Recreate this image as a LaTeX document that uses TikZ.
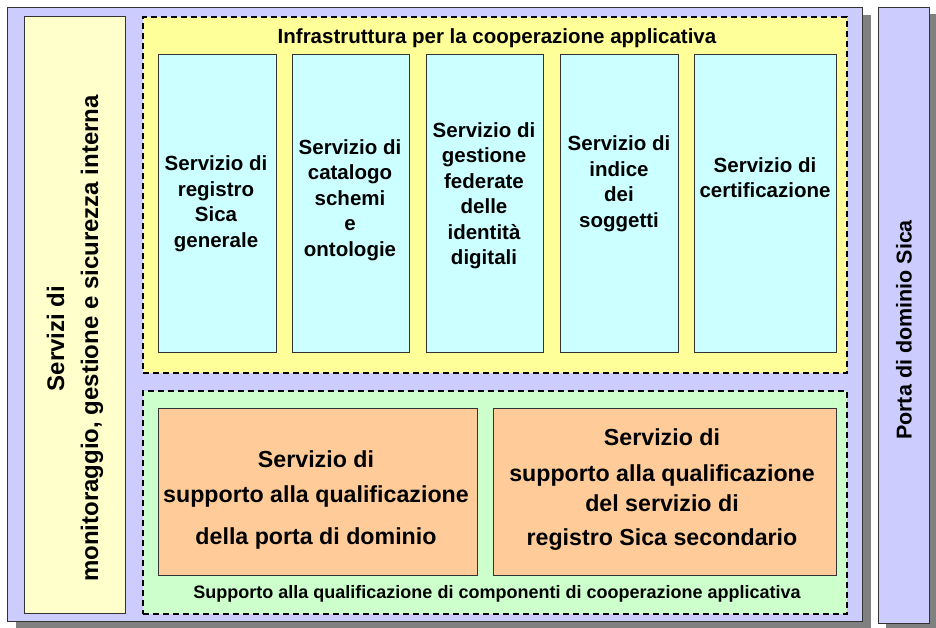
\documentclass[tikz,border=0pt]{standalone}
\usepackage{fontspec}
\setmainfont{Liberation Sans}
\usetikzlibrary{positioning, shadows}
\definecolor{lavanda}{HTML}{CCCCFF}
\definecolor{crema}{HTML}{FFFFCC}
\definecolor{giallo}{HTML}{FFFF99}
\definecolor{ciano}{HTML}{CCFFFF}
\definecolor{verde}{HTML}{CCFFCC}
\definecolor{arancio}{HTML}{FFCC99}

\begin{document}
\begin{tikzpicture}
  [x=1pt, y=-1pt,
   every node/.style={font=\bfseries, inner sep=0pt},
   box/.style={draw=black!80, line width=1pt, anchor=north west},
   ombra/.style={general shadow={fill=black!50, shadow xshift=8pt, shadow yshift=-8pt}},
   area/.style={box, draw=black, line width=2pt, dash pattern=on 6pt off 4pt},
   servizio/.style={box, fill=ciano, minimum height=298pt},
   supporto/.style={box, fill=arancio, minimum height=167pt},
   testo/.style={align=center, font=\fontsize{20.5}{25.5}\selectfont\bfseries},
   grande/.style={align=center, font=\fontsize{23.2}{30}\selectfont\bfseries}]

  \useasboundingbox (0,0) rectangle (936,628);

  % contenitori
  \node[box, ombra, fill=lavanda, minimum width=855pt, minimum height=614pt] (porta) at (7,7) {};
  \node[box, general shadow={fill=black!50, shadow xshift=7pt, shadow yshift=-7pt},
        fill=lavanda, minimum width=51pt, minimum height=616pt] (dominio) at (878,7) {};
  \node[box, fill=crema, minimum width=101pt, minimum height=597pt] (gestione) at (24,16) {};
  \node[area, fill=giallo, minimum width=704pt, minimum height=356pt] (infra) at (142,16) {};
  \node[area, fill=verde, minimum width=704pt, minimum height=223pt] (qualif) at (142,390) {};

  % servizi infrastruttura
  \node[servizio, minimum width=118pt] (registro) at (158,54) {};
  \node[servizio, minimum width=117pt] (catalogo) at (292,54) {};
  \node[servizio, minimum width=117pt] (identita) at (426,54) {};
  \node[servizio, minimum width=118pt] (indice) at (560,54) {};
  \node[servizio, minimum width=142pt] (certif) at (694,54) {};

  % servizi di supporto
  \node[supporto, minimum width=319pt] (suppPdd) at (158,408) {};
  \node[supporto, minimum width=343pt] (suppReg) at (493,408) {};

  % testi
  \node[font=\fontsize{20.5}{24}\selectfont\bfseries] (titoloInfra) at (497,38)
    {Infrastruttura per la cooperazione applicativa};
  \node[font=\fontsize{18}{22}\selectfont\bfseries] (titoloQualif) at (497,594)
    {Supporto alla qualificazione di componenti di cooperazione applicativa};
  \node[rotate=90, align=center, font=\fontsize{24}{34}\selectfont\bfseries] (testoGestione) at (75,338.5)
    {Servizi di\\monitoraggio, gestione e sicurezza interna};
  \node[rotate=90, font=\fontsize{21.5}{24}\selectfont\bfseries] (testoDominio) at (904,330)
    {Porta di dominio Sica};

  \node[testo] (tRegistro) at (216,203.5) {Servizio di\\registro\\Sica\\generale};
  \node[testo] (tCatalogo) at (350,200) {Servizio di\\catalogo\\schemi\\e\\ontologie};
  \node[testo] (tIdentita) at (484,195.5) {Servizio di\\gestione\\federate\\delle\\identità\\digitali};
  \node[testo] (tIndice) at (619,183.5) {Servizio di\\indice\\dei\\soggetti};
  \node[testo] (tCertif) at (765,177.5) {Servizio di\\certificazione};

  \node[grande] (tSuppPdd) at (316,499.5)
    {Servizio di\\[5pt]supporto alla qualificazione\\[12pt]della porta di dominio};
  \node[grande] (tSuppReg) at (662,490)
    {Servizio di\\[6pt]supporto alla qualificazione\\del servizio di\\[4pt]registro Sica secondario};
\end{tikzpicture}
\end{document}
